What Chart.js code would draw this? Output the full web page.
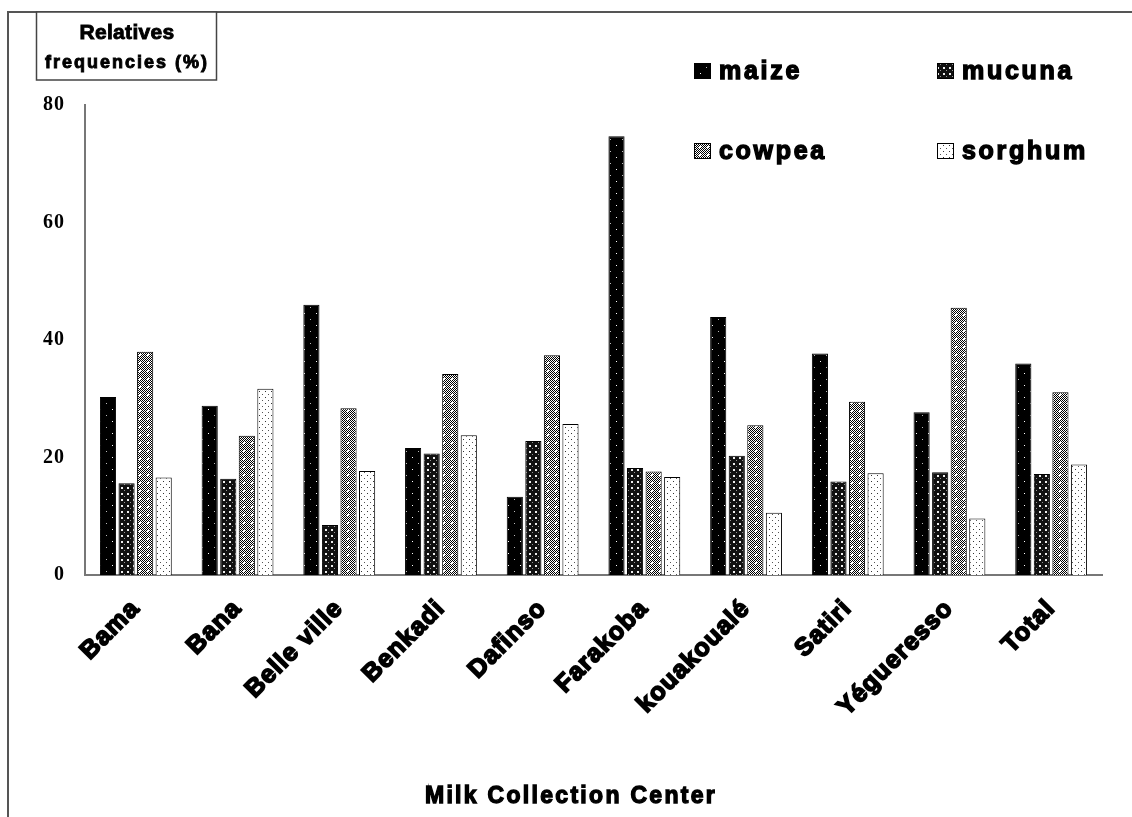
<!DOCTYPE html>
<html lang="en">
<head>
    <meta charset="UTF-8">
    <title>Relative frequencies by milk collection center</title>
    <script src="https://cdn.jsdelivr.net/npm/chart.js"></script>
    <style>
        html, body { margin: 0; padding: 0; background: #fff; }
        canvas { display: block; }
    </style>
</head>
<body>
    <canvas id="freqChart" width="1132" height="817"></canvas>

    <script>
        // data
        const centers = ['Bama', 'Bana', 'Belle ville', 'Benkadi', 'Dafinso', 'Farakoba', 'kouakoualé', 'Satiri', 'Yégueresso', 'Total'];
        const maize   = [30.3, 28.8, 46.0, 21.6, 13.3, 74.7, 43.9, 37.7, 27.7, 36.0];
        const mucuna  = [15.6, 16.4, 8.5, 20.7, 22.8, 18.2, 20.3, 15.9, 17.5, 17.2];
        const cowpea  = [38.0, 23.7, 28.4, 34.2, 37.4, 17.6, 25.5, 29.5, 45.5, 31.1];
        const sorghum = [16.6, 31.7, 17.7, 23.8, 25.7, 16.7, 10.6, 17.3, 9.6, 18.8];
        const yTicks  = [0, 20, 40, 60, 80];

        // small pixel patterns, like the old office fill styles
        function makePattern(size, bg, dots, checker) {
            const c = document.createElement('canvas');
            c.width = size; c.height = size;
            const g = c.getContext('2d');
            g.fillStyle = bg;
            g.fillRect(0, 0, size, size);
            if (checker) {
                g.fillStyle = '#000';
                for (let y = 0; y < size; y++)
                    for (let x = 0; x < size; x++)
                        if ((x + y) % 2 === 0) g.fillRect(x, y, 1, 1);
            }
            dots.forEach(d => {
                g.fillStyle = d[2];
                g.fillRect(d[0], d[1], d[3] || 1, d[3] || 1);
            });
            return g.createPattern(c, 'repeat');
        }

        const fillMaize   = makePattern(12, '#000', [[4, 1, '#fff'], [10, 7, '#bbb']]);
        const fillMucuna  = makePattern(6, '#111', [[1, 1, '#eee', 2], [4, 4, '#999']]);
        const fillCowpea  = makePattern(8, '#fff', [[3, 2, '#fff', 2], [7, 6, '#fff']], true);
        const fillSorghum = makePattern(6, '#fff', [[1, 1, '#333'], [4, 4, '#555']]);

        const FONT = '"Liberation Sans", Arial, sans-serif';

        function heavyText(ctx, txt, x, y, w) {
            ctx.lineWidth = w;
            ctx.fillText(txt, x, y);
            ctx.strokeText(txt, x, y);
        }

        // frame, title box, legend and x axis title
        const decorations = {
            id: 'decorations',
            beforeDraw(chart) {
                // wider letters for the tick labels, closer to the heavy face of the original
                if ('letterSpacing' in chart.ctx) chart.ctx.letterSpacing = '1px';
            },
            afterDraw(chart) {
                const ctx = chart.ctx;
                ctx.save();

                ctx.strokeStyle = '#555';
                ctx.lineWidth = 2;
                ctx.beginPath();
                ctx.moveTo(8, 817);
                ctx.lineTo(8, 12);
                ctx.lineTo(1132, 12);
                ctx.stroke();

                // y axis caption box
                ctx.lineWidth = 1.5;
                ctx.strokeStyle = '#444';
                ctx.fillStyle = '#fff';
                ctx.fillRect(36, 12, 181, 68);
                ctx.strokeRect(36.5, 12, 180, 68);
                ctx.fillStyle = '#000';
                ctx.strokeStyle = '#000';
                ctx.textAlign = 'center';
                ctx.textBaseline = 'middle';
                const spaced = 'letterSpacing' in ctx;
                ctx.font = 'bold 21px ' + FONT;
                if (spaced) ctx.letterSpacing = '0.3px';
                heavyText(ctx, 'Relatives', 127, 33, 0.9);
                ctx.font = 'bold 18px ' + FONT;
                if (spaced) ctx.letterSpacing = '2px';
                heavyText(ctx, 'frequencies (%)', 127, 63, 0.9);

                // legend, 2 x 2
                const spots = [[694, 71], [937, 71], [694, 151], [937, 151]];
                ctx.font = 'bold 25px ' + FONT;
                ctx.textAlign = 'left';
                if (spaced) ctx.letterSpacing = '2.7px';
                chart.data.datasets.forEach((ds, i) => {
                    const [x, y] = spots[i];
                    ctx.fillStyle = ds.backgroundColor;
                    ctx.fillRect(x, y - 8, 17, 16);
                    ctx.lineWidth = 1;
                    ctx.strokeStyle = '#000';
                    ctx.strokeRect(x + 0.5, y - 7.5, 16, 15);
                    ctx.fillStyle = '#000';
                    heavyText(ctx, ds.label, x + 25, y + 1, 1.4);
                });

                // x axis title
                ctx.textAlign = 'center';
                ctx.font = 'bold 23px ' + FONT;
                if (spaced) ctx.letterSpacing = '2.3px';
                heavyText(ctx, 'Milk Collection Center', 571, 797, 1.3);
                ctx.restore();
            }
        };

        const barStyle = (label, fill, data) => ({
            label: label,
            data: data,
            backgroundColor: fill,
            borderColor: '#000',
            borderWidth: 1,
            borderSkipped: 'bottom',
            barPercentage: 0.87,
            categoryPercentage: 0.73
        });

        new Chart(document.getElementById('freqChart'), {
            type: 'bar',
            data: {
                labels: centers,
                datasets: [
                    barStyle('maize', fillMaize, maize),
                    barStyle('mucuna', fillMucuna, mucuna),
                    barStyle('cowpea', fillCowpea, cowpea),
                    barStyle('sorghum', fillSorghum, sorghum)
                ]
            },
            options: {
                responsive: false,
                animation: false,
                devicePixelRatio: 1,
                layout: { padding: { top: 105, right: 30, left: 0, bottom: 0 } },
                plugins: {
                    legend: { display: false },
                    tooltip: { enabled: false }
                },
                scales: {
                    x: {
                        grid: { display: false, drawTicks: false },
                        border: { display: true, color: '#777', width: 2 },
                        ticks: {
                            autoSkip: false,
                            minRotation: 45,
                            maxRotation: 45,
                            padding: 19,
                            color: '#000',
                            textStrokeColor: '#000',
                            textStrokeWidth: 1.7,
                            font: { family: FONT, size: 25, weight: 'bold' }
                        },
                        afterFit(scale) { scale.height = 242; }
                    },
                    y: {
                        min: 0,
                        max: 80,
                        afterBuildTicks(scale) { scale.ticks = yTicks.map(v => ({ value: v })); },
                        grid: { display: false, drawTicks: false },
                        border: { display: true, color: '#777', width: 2 },
                        ticks: {
                            padding: 20,
                            color: '#000',
                            font: { family: '"Liberation Serif", "Times New Roman", serif', size: 20, weight: 'bold' }
                        },
                        afterFit(scale) { scale.width = 85; }
                    }
                }
            },
            plugins: [decorations]
        });
    </script>
</body>
</html>
